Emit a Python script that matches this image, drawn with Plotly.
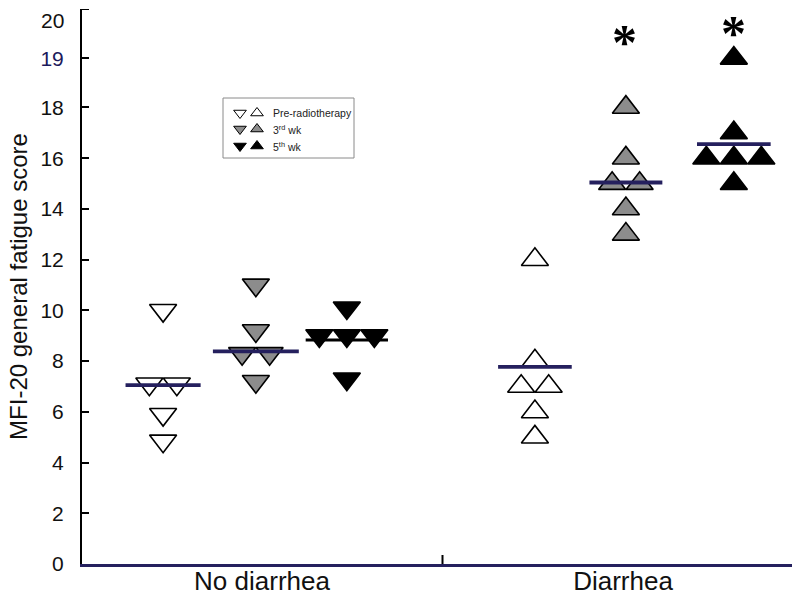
import plotly.graph_objects as go

# ---------------- data ----------------
categories = ["No diarrhea", "Diarrhea"]
timepoints = ["Pre-radiotherapy", "3<sup>rd</sup> wk", "5<sup>th</sup> wk"]

no_diarrhea_pre = [10, 7.1, 7.1, 5.9, 4.85]
no_diarrhea_3rd = [11, 9.2, 8.3, 8.3, 7.2]
no_diarrhea_5th = [10.1, 9, 9, 9, 7.3]
diarrhea_pre = [12, 8, 7, 7, 6, 5]
diarrhea_3rd = [18, 16, 15, 15, 14, 13]
diarrhea_5th = [19, 17, 16, 16, 16, 15]

no_diarrhea_means = [7.05, 8.38, 8.83]
diarrhea_means = [7.77, 15.04, 16.55]

ytick_values = [0, 2, 4, 6, 8, 10, 12, 14, 16, 18, 19, 20]
ytick_labels = ["0", "2", "4", "6", "8", "10", "12", "14", "16", "18",
                "<span style='color:#1c1a5c'>19</span>", "20"]

# ---------------- layout constants ----------------
W, H = 792, 596
ML, MR, MT, MB = 82, 0, 9, 32
PX_PER_X = 361.0                       # pixels per category unit
X_RANGE = [1 - (262 - ML) / PX_PER_X, 2 + (W - 623) / PX_PER_X]
col_offset = [[-0.274, -0.017, 0.235], [-0.244, 0.008, 0.307]]
line_half = [[0.104, 0.119, 0.114], [0.102, 0.101, 0.102]]
fills = ["#ffffff", "#8c8c8c", "#000000"]
symbols = ["triangle-down", "triangle-up"]
NAVY = "#25205e"
DODGE_PX = 27.5
BREAK = 18.0
STRETCH = 1.94   # axis expanded above 18
TICKFONT = dict(family="Liberation Sans", size=21, color="#111111")


def axis_pos(v):
    """broken y axis: 0-18 linear, 18-20 expanded"""
    return v if v <= BREAK else BREAK + (v - BREAK) * STRETCH


def dodge(vals, center):
    xs = []
    for i, v in enumerate(vals):
        same = [j for j, w in enumerate(vals) if w == v]
        n = len(same)
        k = same.index(i)
        xs.append(center + (k - (n - 1) / 2) * DODGE_PX / PX_PER_X)
    return xs


groups = [[no_diarrhea_pre, no_diarrhea_3rd, no_diarrhea_5th],
          [diarrhea_pre, diarrhea_3rd, diarrhea_5th]]
means = [no_diarrhea_means, diarrhea_means]

fig = go.Figure()

for gi, cat in enumerate(categories):
    for ti, vals in enumerate(groups[gi]):
        c = gi + 1 + col_offset[gi][ti]
        fig.add_trace(go.Scatter(
            x=dodge(vals, c), y=[axis_pos(v) for v in vals], mode="markers",
            marker=dict(symbol=symbols[gi], size=23.5, color=fills[ti],
                        line=dict(color="#000000", width=1.6)),
            showlegend=False, hoverinfo="skip"))

for gi, cat in enumerate(categories):
    for ti in range(3):
        c = gi + 1 + col_offset[gi][ti]
        m = means[gi][ti]
        col = "#000000" if (gi == 0 and ti == 2) else NAVY
        fig.add_trace(go.Scatter(
            x=[c - line_half[gi][ti], c + line_half[gi][ti]],
            y=[axis_pos(m), axis_pos(m)], mode="lines",
            line=dict(color=col, width=3.8 if col == NAVY else 3),
            showlegend=False, hoverinfo="skip"))

# ---------------- legend (drawn in page-pixel overlay axes) ----------------
leg_rows = [113, 129, 146]
for ti in range(3):
    for si, sx in enumerate([240, 257]):
        fig.add_trace(go.Scatter(
            x=[sx], y=[leg_rows[ti]], xaxis="x2", yaxis="y2", mode="markers",
            marker=dict(symbol=symbols[si], size=11, color=fills[ti],
                        line=dict(color="#000000", width=1)),
            showlegend=False, hoverinfo="skip"))
    fig.add_annotation(x=271, y=leg_rows[ti], xref="x2", yref="y2",
                       text=timepoints[ti], showarrow=False, xanchor="left",
                       yanchor="middle",
                       font=dict(family="Liberation Sans", size=10.5, color="#222222"))

fig.add_shape(type="rect", xref="x2", yref="y2", x0=223, x1=354, y0=98, y1=158,
              line=dict(color="#8a8a8a", width=1), fillcolor="white", layer="below")

# top grey frame line
fig.add_shape(type="line", xref="x2", yref="y2", x0=88, x1=W, y0=8.3, y1=8.3,
              line=dict(color="#a8a8a8", width=1.5))
# middle category separator tick
fig.add_shape(type="line", xref="x", yref="y2", x0=1.5, x1=1.5, y0=564, y1=555,
              line=dict(color="#000000", width=2))

# top tick label, set just below the axis end as in the reference
fig.add_annotation(x=(66 - ML) / (W - ML - MR), y=20, xref="paper", yref="y2",
                   text=ytick_labels[-1], showarrow=False, xanchor="right",
                   yanchor="middle", font=TICKFONT)

# significance stars
for sx, sy in [(624, 42), (733, 33)]:
    fig.add_annotation(x=sx, y=sy, xref="x2", yref="y2", text="<b>*</b>", showarrow=False,
                       xanchor="center", yanchor="middle",
                       font=dict(family="Liberation Serif", size=50, color="#000000"))

fig.update_layout(
    width=W, height=H, margin=dict(l=ML, r=MR, t=MT, b=MB, autoexpand=False),
    paper_bgcolor="white", plot_bgcolor="white", showlegend=False,
    xaxis=dict(range=X_RANGE, tickvals=[1, 2], ticktext=categories, ticks="",
               showgrid=False, zeroline=False, showline=True, linecolor=NAVY,
               linewidth=3, automargin=False, ticklabelstandoff=-8,
               tickfont=dict(family="Liberation Sans", size=26, color="#111111"),
               fixedrange=True),
    yaxis=dict(range=[0, axis_pos(20)], tickvals=[axis_pos(v) for v in ytick_values[:-1]],
               ticktext=ytick_labels[:-1], ticks="inside", ticklen=7, tickwidth=1.5,
               tickcolor="#000000", showgrid=False, zeroline=False, showline=True,
               linecolor="#000000", linewidth=2, ticklabelstandoff=12,
               automargin=False, tickfont=TICKFONT,
               title=dict(text="MFI-20 general fatigue score", standoff=6,
                          font=dict(family="Liberation Sans", size=24, color="#111111")),
               fixedrange=True),
    xaxis2=dict(overlaying="x", range=[ML, W], visible=False, fixedrange=True),
    yaxis2=dict(overlaying="y", range=[H - MB, MT], visible=False, fixedrange=True),
)
# tick mark at the top end of the axis (label drawn above as annotation)
fig.add_shape(type="line", xref="x2", yref="y", x0=ML, x1=ML + 7,
              y0=axis_pos(20), y1=axis_pos(20), line=dict(color="#000000", width=2))

fig.write_html("out.html")
